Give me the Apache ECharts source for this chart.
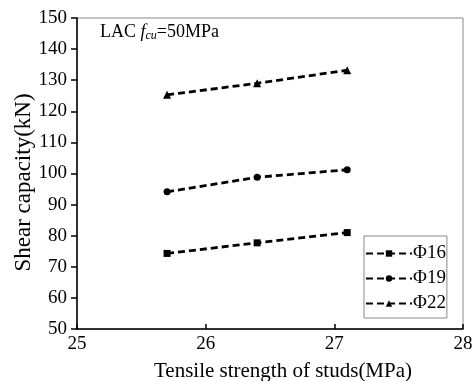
<!DOCTYPE html>
<html><head><meta charset="utf-8">
<script src="https://cdn.jsdelivr.net/npm/echarts@6/dist/echarts.min.js"></script>
<style>html,body{margin:0;padding:0;background:#fff}#c{width:472px;height:381px}</style>
</head><body><div id="c"></div>
<script>
const xValues = [25.7, 26.4, 27.1];
const seriesNames = ['Φ16', 'Φ19', 'Φ22'];
const phi16 = [74.3, 77.7, 81.0];
const phi19 = [94.1, 98.8, 101.2];
const phi22 = [125.3, 129.0, 133.2];
const symbols = ['rect', 'circle', 'triangle'];
const allValues = [phi16, phi19, phi22];

const font = 'Liberation Serif';
const chart = echarts.init(document.getElementById('c'));
chart.setOption({
  animation: false,
  backgroundColor: '#fff',
  grid: { left: 77, top: 18, right: 9, bottom: 52, show: true, borderColor: '#888', borderWidth: 1,
          containLabel: false, outerBoundsMode: 'none' },
  xAxis: {
    type: 'value', min: 25, max: 28, interval: 1,
    name: 'Tensile strength of studs(MPa)', nameLocation: 'middle', nameGap: 32,
    nameTextStyle: { fontFamily: font, fontSize: 21, color: '#000', padding: [0, 0, 0, 26] },
    axisLine: { lineStyle: { color: '#000', width: 1.5 } },
    axisTick: { inside: true, length: 5, lineStyle: { color: '#000', width: 1.5 } },
    axisLabel: { fontFamily: font, fontSize: 19, color: '#000', margin: 6 },
    splitLine: { show: false }
  },
  yAxis: {
    type: 'value', min: 50, max: 150, interval: 10,
    name: 'Shear capacity(kN)', nameLocation: 'middle', nameGap: 42, nameMoveOverlap: false,
    nameTextStyle: { fontFamily: font, fontSize: 23, color: '#000', padding: [0, 18, 0, 0] },
    axisLine: { show: true, lineStyle: { color: '#000', width: 1.5 } },
    axisTick: { show: true, inside: false, length: 6, lineStyle: { color: '#000', width: 1.5 } },
    axisLabel: { fontFamily: font, fontSize: 19, color: '#000', margin: 10 },
    splitLine: { show: false }
  },
  legend: {
    orient: 'vertical', left: 364, top: 236,
    data: seriesNames,
    itemWidth: 46, itemHeight: 8, itemGap: 6,
    borderColor: '#888', borderWidth: 1, padding: [8, 1, 5, 1],
    textStyle: { fontFamily: font, fontSize: 19, color: '#000', padding: [0, 0, 0, -4] }
  },
  graphic: [{
    type: 'text', left: 100, top: 23,
    style: {
      text: 'LAC {i|f}{s|cu}=50MPa',
      fontFamily: font, fontSize: 18, fill: '#000',
      rich: {
        i: { fontFamily: font, fontSize: 18, fontStyle: 'italic' },
        s: { fontFamily: font, fontSize: 12, fontStyle: 'italic', verticalAlign: 'bottom', padding: [7, 0, 0, 0] }
      }
    }
  }],
  series: seriesNames.map((n, i) => ({
    name: n, type: 'line',
    data: xValues.map((x, j) => [x, allValues[i][j]]),
    symbol: symbols[i], symbolSize: i === 2 ? 8 : 7,
    lineStyle: { color: '#000', width: 2.8, type: [7, 4] },
    itemStyle: { color: '#000' }
  }))
});
</script></body></html>
